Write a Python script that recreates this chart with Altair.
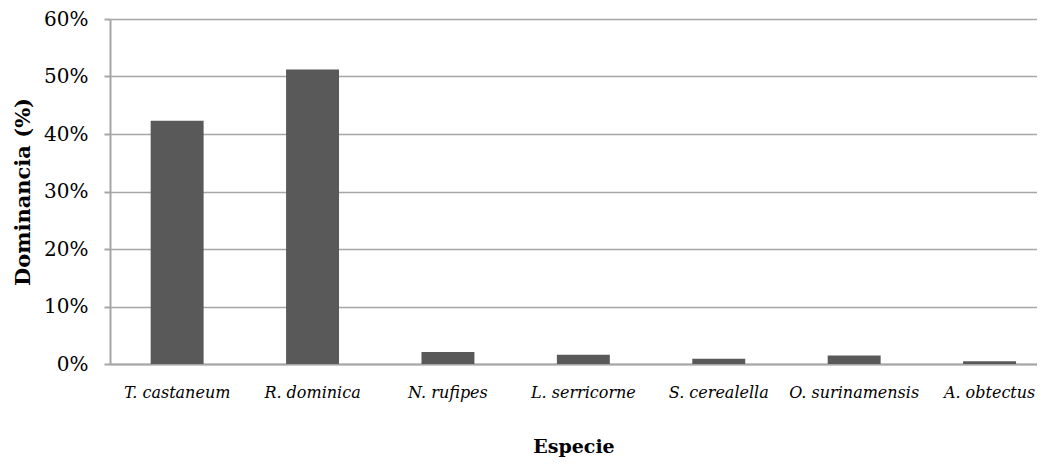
import altair as alt
import pandas as pd

especies = ["T. castaneum", "R. dominica", "N. rufipes", "L. serricorne",
            "S. cerealella", "O. surinamensis", "A. obtectus"]
dominancia = [0.423, 0.512, 0.021, 0.016, 0.009, 0.015, 0.005]

df = pd.DataFrame({"Especie": especies, "Dominancia": dominancia})

FONT = "DejaVu Serif"
GRID = "#a6a6a6"

chart = alt.Chart(df).mark_bar(color="#595959").encode(
    x=alt.X("Especie:N", sort=especies, title="Especie",
            scale=alt.Scale(paddingInner=0.609, paddingOuter=0.2275, align=0.66),
            axis=alt.Axis(labelAngle=0, ticks=False, labelPadding=20,
                          labelFont=FONT, labelFontStyle="italic", labelFontSize=16,
                          labelColor="#000000",
                          titleFont=FONT, titleFontWeight="bold", titleFontSize=19,
                          titleColor="#000000", titlePadding=37,
                          domainColor=GRID, domainWidth=2, grid=False)),
    y=alt.Y("Dominancia:Q", title="Dominancia  (%)",
            scale=alt.Scale(domain=[0, 0.6], nice=False),
            axis=alt.Axis(format=".0%", values=[0, 0.1, 0.2, 0.3, 0.4, 0.5, 0.6],
                          tickSize=6, tickColor=GRID, tickWidth=2, labelPadding=16,
                          labelFont=FONT, labelFontSize=20, labelColor="#000000",
                          titleFont=FONT, titleFontWeight="bold", titleFontSize=21,
                          titleColor="#000000", titlePadding=10,
                          domainColor=GRID, domainWidth=2,
                          grid=True, gridColor=GRID, gridWidth=1.5)),
).properties(
    width=927, height=345,
    autosize=alt.AutoSizeParams(type="none"),
    padding={"left": 102, "top": 11, "right": 0, "bottom": 104},
).configure_view(stroke=None)

chart.save("out.html", embed_options={"renderer": "svg", "actions": False})
